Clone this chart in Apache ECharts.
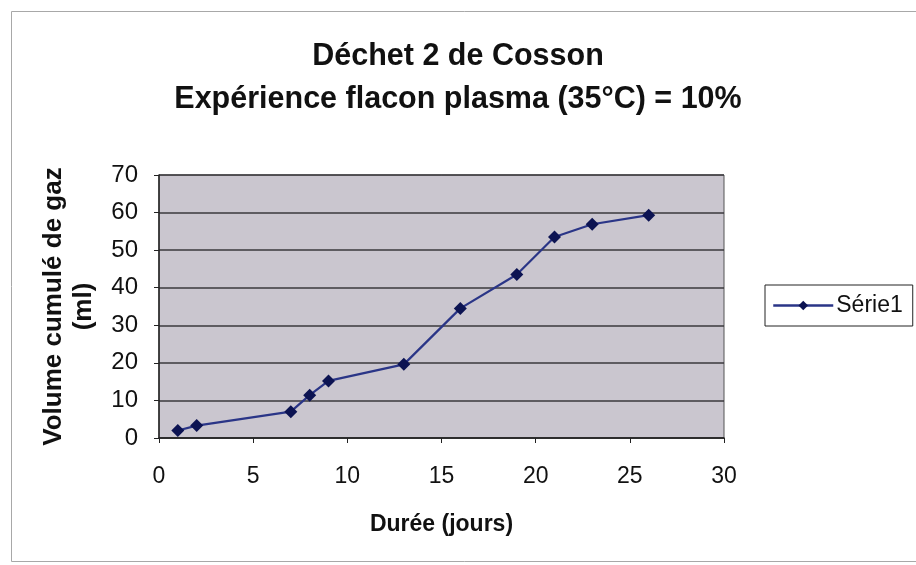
<!DOCTYPE html>
<html>
<head>
<meta charset="utf-8">
<script src="https://cdn.jsdelivr.net/npm/echarts@6/dist/echarts.min.js"></script>
<style>
  html, body { margin: 0; padding: 0; background: #ffffff; }
  #chart { width: 916px; height: 565px; }
</style>
</head>
<body>
<div id="chart"></div>
<script>
// Cumulative gas volume measured in the plasma flask at 35 °C
const chartTitle = 'Déchet 2 de Cosson\nExpérience flacon plasma (35°C) = 10%';
const xAxisName = 'Durée (jours)';
const yAxisName = 'Volume cumulé de gaz\n(ml)';
const seriesName = 'Série1';

const days = [1, 2, 7, 8, 9, 13, 16, 19, 21, 23, 26];
const volume = [2, 3.3, 7, 11.4, 15.2, 19.6, 34.5, 43.5, 53.5, 56.9, 59.3];

const xTicks = [0, 5, 10, 15, 20, 25, 30];
const yTicks = [0, 10, 20, 30, 40, 50, 60, 70];

const font = '"Liberation Sans", Arial, sans-serif';

const chart = echarts.init(document.getElementById('chart'), null, { renderer: 'canvas' });

chart.setOption({
  backgroundColor: '#ffffff',
  animation: false,
  textStyle: { fontFamily: font, color: '#111' },
  title: {
    text: chartTitle,
    left: 'center',
    top: 30,
    textStyle: {
      fontFamily: font,
      fontSize: 30.5,
      fontWeight: 'bold',
      lineHeight: 43,
      color: '#111'
    }
  },
  legend: {
    left: 765,
    top: 285,
    orient: 'vertical',
    padding: [9, 10, 9, 7],
    borderColor: '#222',
    borderWidth: 1,
    backgroundColor: '#ffffff',
    itemWidth: 60,
    itemHeight: 12,
    itemGap: 4,
    lineStyle: { width: 2.5 },
    textStyle: { fontFamily: font, fontSize: 23, color: '#111', padding: [0, 0, 0, -2] },
    data: [seriesName]
  },
  grid: {
    left: 159,
    right: 192,
    top: 175,
    bottom: 127,
    show: true,
    backgroundColor: '#cac6cf',
    borderColor: '#555',
    borderWidth: 1
  },
  xAxis: {
    type: 'value',
    min: xTicks[0],
    max: xTicks[xTicks.length - 1],
    interval: xTicks[1] - xTicks[0],
    name: xAxisName,
    nameLocation: 'middle',
    nameGap: 75,
    nameTextStyle: { fontFamily: font, fontSize: 23, fontWeight: 'bold', color: '#111' },
    axisLine: { show: true, onZero: false, lineStyle: { color: '#222', width: 1.5 } },
    axisTick: { show: true, length: 5, lineStyle: { color: '#222' } },
    axisLabel: { margin: 27, fontFamily: font, fontSize: 23, color: '#111' },
    splitLine: { show: false }
  },
  yAxis: {
    type: 'value',
    min: yTicks[0],
    max: yTicks[yTicks.length - 1],
    interval: yTicks[1] - yTicks[0],
    name: yAxisName,
    nameLocation: 'middle',
    nameRotate: 90,
    nameGap: 60,
    nameTextStyle: {
      fontFamily: font, fontSize: 26, fontWeight: 'bold', color: '#111',
      lineHeight: 30, align: 'center'
    },
    axisLine: { show: true, lineStyle: { color: '#222', width: 1.5 } },
    axisTick: { show: true, length: 5, lineStyle: { color: '#222' } },
    axisLabel: { margin: 21, fontFamily: font, fontSize: 24, color: '#111' },
    splitLine: { show: true, lineStyle: { color: '#3a383d', width: 1.5 } }
  },
  series: [{
    name: seriesName,
    type: 'line',
    data: days.map((d, i) => [d, volume[i]]),
    symbol: 'diamond',
    symbolSize: 13,
    lineStyle: { color: '#2a3587', width: 2.2 },
    itemStyle: { color: '#0c1352' }
  }],
  graphic: [{
    type: 'rect',
    shape: { x: 11.5, y: 11.5, width: 940, height: 550 },
    style: { fill: 'none', stroke: '#a8a8a8', lineWidth: 1 },
    z: -1
  }]
});
</script>
</body>
</html>
